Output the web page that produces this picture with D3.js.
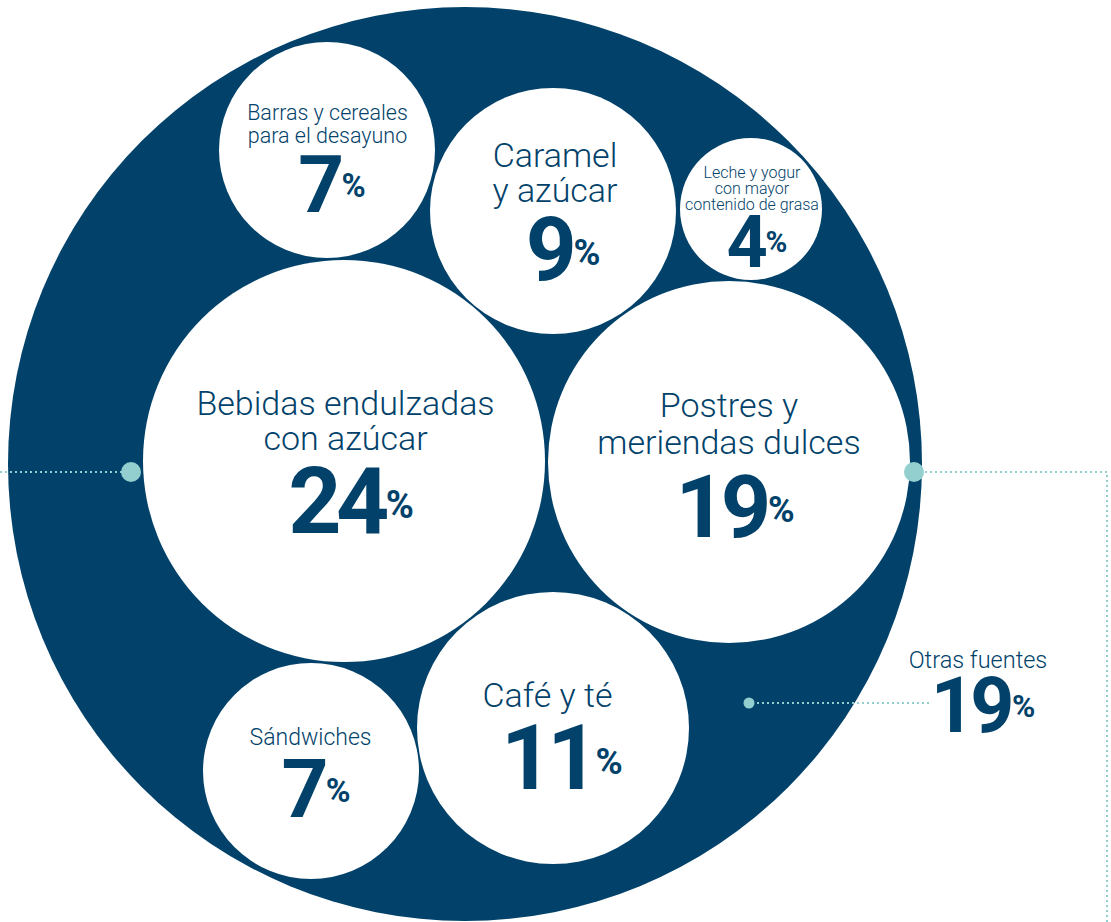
<!DOCTYPE html>
<html>
<head>
<meta charset="utf-8">
<script src="https://cdn.jsdelivr.net/npm/d3@7"></script>
<style>
  body { margin: 0; background: #fff; }
  svg { display: block; }
  text { font-family: Roboto, "Noto Sans", sans-serif; fill: #02426a; }
</style>
</head>
<body>
<svg width="1111" height="922"></svg>
<script>
// categories (label lines) and their shares, in percent
var categories = [
  ["Barras y cereales", "para el desayuno"],
  ["Caramel", "y azúcar"],
  ["Leche y yogur", "con mayor", "contenido de grasa"],
  ["Bebidas endulzadas", "con azúcar"],
  ["Postres y", "meriendas dulces"],
  ["Café y té"],
  ["Sándwiches"]
];
var values = [7, 9, 4, 24, 19, 11, 7];

var otherLabel = "Otras fuentes";
var otherValue = 19;

// where each bubble and its text sit (pixels)
var layout = [
  { cx: 327, cy: 150, r: 108, tx: 327.5, fs: 21.5, lines: [120, 143], nx: 332, num: 212, nfs: 80 },
  { cx: 553, cy: 211, r: 123, tx: 555, fs: 34, lines: [167, 202], nx: 563, num: 280, nfs: 89 },
  { cx: 751, cy: 209, r: 71,  tx: 752, fs: 16, lines: [178, 194, 210], nx: 757, num: 267, nfs: 72 },
  { cx: 344, cy: 461, r: 201, tx: 345.5, fs: 34, lines: [415, 450], nx: 351, num: 533, nfs: 93 },
  { cx: 729, cy: 462, r: 181, tx: 729, fs: 34, lines: [417, 454], nx: 735, num: 537, nfs: 88 },
  { cx: 553, cy: 728, r: 136, tx: 547.5, fs: 34, lines: [707], nx: 562, num: 789, nfs: 90 },
  { cx: 311, cy: 771, r: 108, tx: 310.5, fs: 23, lines: [745], nx: 316, num: 817, nfs: 82 }
];

var dark = "#02426a";
var teal = "#93cfcf";

var svg = d3.select("svg");

var rows = values.map(function(v, i) {
  return { value: v, label: categories[i], pos: layout[i] };
});

// the big circle for the whole (100%)
svg.append("circle")
  .attr("cx", 465)
  .attr("cy", 464)
  .attr("r", 457)
  .attr("fill", dark);

// connector lines, dotted
var dotted = svg.append("g")
  .attr("fill", "none")
  .attr("stroke", teal)
  .attr("stroke-width", 2)
  .attr("stroke-dasharray", "2,3");

dotted.append("path").attr("d", d3.line()([[0, 472], [125, 472]]));
dotted.append("path").attr("d", d3.line()([[920, 472], [1107, 472], [1107, 922]]));
dotted.append("path").attr("d", d3.line()([[752, 703], [930, 703]]));

// white bubbles
var bubble = svg.selectAll("g.bubble")
  .data(rows)
  .enter()
  .append("g")
  .attr("class", "bubble");

bubble.append("circle")
  .attr("cx", function(d) { return d.pos.cx; })
  .attr("cy", function(d) { return d.pos.cy; })
  .attr("r", function(d) { return d.pos.r; })
  .attr("fill", "#fff");

// label lines
bubble.each(function(d) {
  var g = d3.select(this);
  d.label.forEach(function(line, j) {
    g.append("text")
      .attr("x", d.pos.tx)
      .attr("y", d.pos.lines[j])
      .attr("text-anchor", "middle")
      .attr("font-size", d.pos.fs)
      .attr("font-weight", 300)
      .text(line);
  });
});

// big number with a small percent sign
function percent(g, x, y, size, v) {
  var t = g.append("text")
    .attr("x", x)
    .attr("y", y)
    .attr("text-anchor", "middle")
    .attr("font-weight", 700)
    .attr("font-size", size);
  t.append("tspan")
    .style("letter-spacing", (-0.06 * size) + "px")
    .text(v);
  t.append("tspan")
    .attr("dx", 2)
    .attr("dy", -15)
    .attr("font-size", size * 0.41)
    .text("%");
}

bubble.each(function(d) {
  percent(d3.select(this), d.pos.nx, d.pos.num, d.pos.nfs, d.value);
});

// teal end dots
svg.append("circle").attr("cx", 131).attr("cy", 472).attr("r", 10).attr("fill", teal);
svg.append("circle").attr("cx", 914).attr("cy", 472).attr("r", 10).attr("fill", teal);
svg.append("circle").attr("cx", 749).attr("cy", 703).attr("r", 5.5).attr("fill", teal);

// "other sources" outside the circle
var other = svg.append("g");
other.append("text")
  .attr("x", 978)
  .attr("y", 668)
  .attr("text-anchor", "middle")
  .attr("font-size", 23.5)
  .attr("font-weight", 300)
  .text(otherLabel);
percent(other, 983, 732, 77, otherValue);
</script>
</body>
</html>
